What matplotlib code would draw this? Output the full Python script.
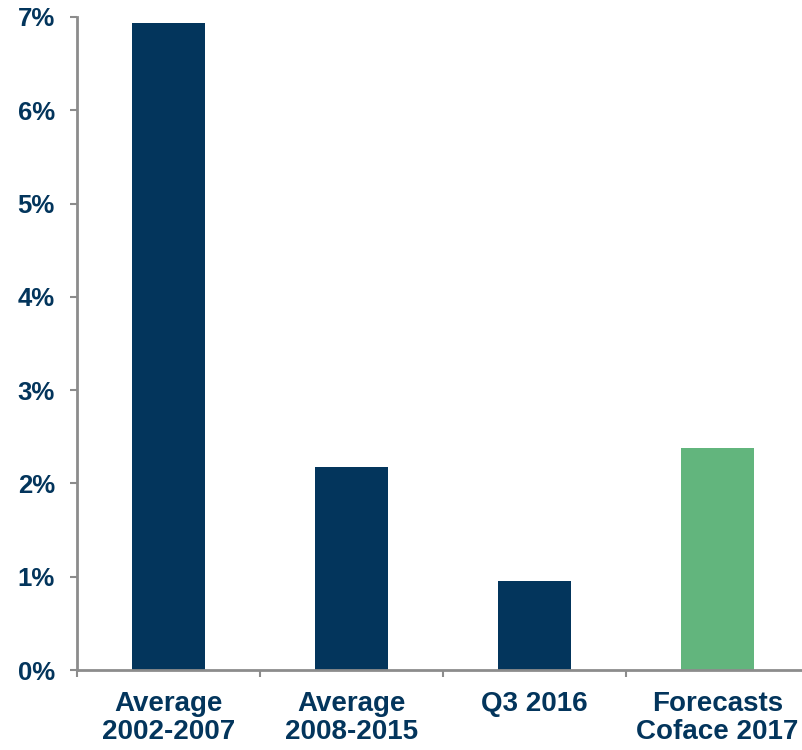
import matplotlib
matplotlib.use('Agg')
import matplotlib.pyplot as plt
from matplotlib.ticker import FuncFormatter, FixedLocator
import numpy as np

# data
categories = ['Average\n2002-2007', 'Average\n2008-2015', 'Q3 2016', 'Forecasts\nCoface 2017']
values = [6.94, 2.18, 0.95, 2.38]
bar_colors = ['#03355C', '#03355C', '#03355C', '#62B57D']

navy = '#03355C'
grey = '#8C8C8C'

plt.rcParams['font.family'] = ['Liberation Sans', 'DejaVu Sans']

fig = plt.figure(figsize=(8.03, 7.5), dpi=100)
ax = fig.add_axes([77 / 803, 80 / 750, 726 / 803, 653 / 750])

x_pos = np.arange(len(categories))
ax.bar(x_pos, values, width=0.4, color=bar_colors, zorder=2)

ax.set_xlim(-0.5, -0.5 + 726 / 183)
ax.set_ylim(0, 7)

# y axis
ax.set_yticks(np.arange(0, 8, 1))
ax.yaxis.set_major_formatter(FuncFormatter(lambda v, p: f'{int(v)}%'))
ax.tick_params(axis='y', direction='out', length=5, width=1.5, color=grey,
               pad=11, labelsize=18.5, labelcolor=navy)
for lab in ax.get_yticklabels():
    lab.set_fontweight('bold')

# x axis: ticks at category boundaries, labels centred
ax.xaxis.set_major_locator(FixedLocator(np.arange(-0.5, 4, 1)))
ax.xaxis.set_minor_locator(FixedLocator(x_pos))
ax.set_xticklabels([])
ax.set_xticklabels(categories, minor=True, fontsize=20, fontweight='bold',
                   color=navy, linespacing=1.1)
ax.tick_params(axis='x', which='major', direction='out', length=5, width=1.5, color=grey)
ax.tick_params(axis='x', which='minor', length=0, pad=15)

for side in ['top', 'right']:
    ax.spines[side].set_visible(False)
for side in ['left', 'bottom']:
    ax.spines[side].set_color(grey)
    ax.spines[side].set_linewidth(2)

plt.savefig('out.png', dpi=100)
plt.close()
